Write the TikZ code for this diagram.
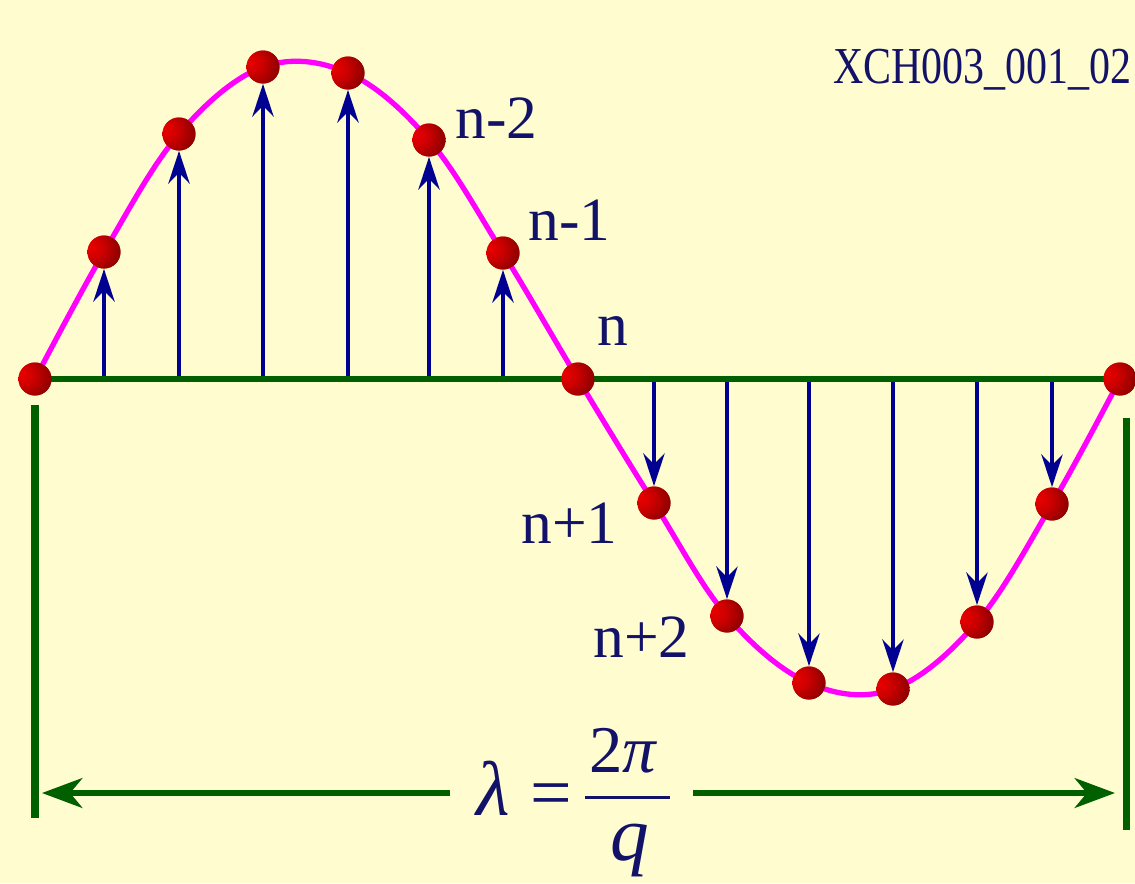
\documentclass[tikz,border=0pt]{standalone}
\usepackage{fontspec}
\usepackage{graphicx}
\setmainfont{Liberation Serif}
\usetikzlibrary{arrows.meta}
\definecolor{bgyellow}{RGB}{255,253,208}
\definecolor{axisgreen}{RGB}{0,96,0}
\definecolor{wavemagenta}{RGB}{255,0,255}
\definecolor{vecblue}{RGB}{0,0,145}
\definecolor{textnavy}{RGB}{18,18,105}
\definecolor{ballA}{RGB}{235,0,0}
\definecolor{ballB}{RGB}{205,0,0}
\definecolor{ballC}{RGB}{95,0,0}
\definecolor{ballD}{RGB}{50,0,0}
\pgfdeclareradialshading{redball}{\pgfpoint{-22bp}{8bp}}{color(0bp)=(ballA); color(16bp)=(ballB); color(52bp)=(ballC); color(80bp)=(ballD)}
\tikzset{
  ball/.style={circle, minimum size=0.66cm, inner sep=0pt, shading=redball},
  vecarrow/.style={draw=vecblue, line width=2.7pt, -{Stealth[length=18.5pt,width=12pt,inset=6pt]}},
  axisline/.style={draw=axisgreen, line width=3.7pt},
  barline/.style={draw=axisgreen, line width=4pt},
  dimarrow/.style={draw=axisgreen, line width=2.9pt, -{Stealth[length=23pt,width=17pt,inset=7pt]}},
  wave/.style={draw=wavemagenta, line width=3pt},
  lbl/.style={text=textnavy, inner sep=0pt, anchor=base west, font=\fontsize{35}{38}\selectfont},
  fracbar/.style={draw=textnavy, line width=1.7pt}
}
\begin{document}
\begin{tikzpicture}[x=0.02cm, y=-0.02cm]
\useasboundingbox (0,0) rectangle (1135,883);
\fill[bgyellow] (0,0) rectangle (1135,883);
% curve points (ball centres)
\coordinate (p0) at (35,379);
\coordinate (p1) at (104,252);
\coordinate (p2) at (179,134);
\coordinate (p3) at (263,67);
\coordinate (p4) at (348,73);
\coordinate (p5) at (429,140);
\coordinate (p6) at (503,253);
\coordinate (p7) at (578,379);
\coordinate (p8) at (654,503);
\coordinate (p9) at (727,616);
\coordinate (p10) at (809,683);
\coordinate (p11) at (893,689);
\coordinate (p12) at (977,622);
\coordinate (p13) at (1052,504);
\coordinate (p14) at (1120,379);
% axis feet of arrows
\foreach \i/\x in {1/104,2/179,3/263,4/348,5/429,6/503,8/654,9/727,10/809,11/893,12/977,13/1052}{
  \coordinate (a\i) at (\x,379);
}
% balls (nodes first so arrows can use their anchors)
\foreach \i in {0,...,14}{
  \node[ball] (b\i) at (p\i) {};
}
% arrows
\foreach \i in {1,...,6}{
  \draw[vecarrow] (a\i) -- (b\i.south);
}
\foreach \i in {8,...,13}{
  \draw[vecarrow] (a\i) -- (b\i.north);
}
% axis
\draw[axisline] (b0.center) -- (b14.center);
% wave
\draw[wave] plot[smooth, tension=0.6] coordinates {(p0) (p1) (p2) (p3) (p4) (p5) (p6) (p7) (p8) (p9) (p10) (p11) (p12) (p13) (p14)};
% redraw balls on top
\foreach \i in {0,...,14}{
  \shade[shading=redball] (p\i) circle[radius=16.5];
}
% wavelength bars and arrow
\coordinate (barLt) at (35,405);
\coordinate (barLb) at (35,818);
\coordinate (barRt) at (1126,418);
\coordinate (barRb) at (1126,830);
\draw[barline] (barLt) -- (barLb);
\draw[barline] (barRt) -- (barRb);
\coordinate (dimL) at (42,793);
\coordinate (dimR) at (1115,793);
\coordinate (gapL) at (450,793);
\coordinate (gapR) at (693,793);
\draw[dimarrow] (gapL) -- (dimL);
\draw[dimarrow] (gapR) -- (dimR);
% formula
\node[text=textnavy, inner sep=0pt, anchor=base west, font=\fontsize{44}{46}\selectfont\itshape] (lam) at (476,815) {λ};
\node[text=textnavy, inner sep=0pt, anchor=base west, font=\fontsize{42}{44}\selectfont] (eq) at (530,817) {=};
\node[text=textnavy, inner sep=0pt, anchor=base west, font=\fontsize{38}{40}\selectfont] (num) at (589,772) {2\textit{π}};
\coordinate (fracL) at (585,797);
\coordinate (fracR) at (670,797);
\draw[fracbar] (fracL) -- (fracR);
\node[text=textnavy, inner sep=0pt, anchor=base west, font=\fontsize{44}{46}\selectfont\itshape] (den) at (610,860) {q};
% labels
\node[lbl] (lnm2) at (455,138) {n-2};
\node[lbl] (lnm1) at (528,240) {n-1};
\node[lbl] (ln) at (597,345) {n};
\node[lbl] (lnp1) at (521,543) {n+1};
\node[lbl] (lnp2) at (593,657) {n+2};
\node[text=textnavy, inner sep=0pt, anchor=base west] (code) at (833,83) {\scalebox{0.81}[1]{\fontsize{29.5}{31}\selectfont XCH003\_001\_02}};
\end{tikzpicture}
\end{document}
